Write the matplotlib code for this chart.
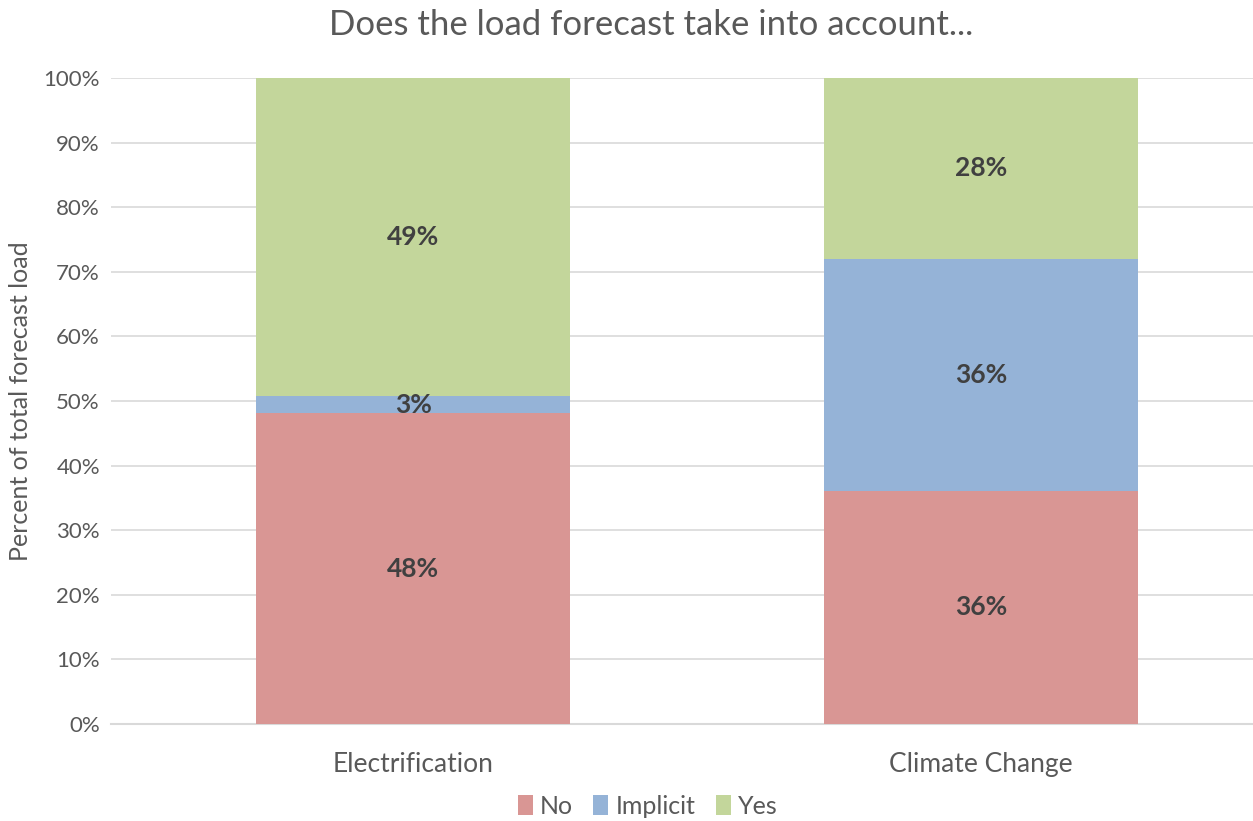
import numpy as np
import matplotlib.pyplot as plt

plt.rcParams['font.family'] = ['Lato', 'DejaVu Sans']

# data (percent of total forecast load)
categories = ['Electrification', 'Climate Change']
no_vals = [48.1, 36.1]
implicit_vals = [2.6, 35.9]
yes_vals = [49.3, 28.0]
series_names = ['No', 'Implicit', 'Yes']
colors = ['#D99694', '#95B3D7', '#C3D69B']

fig = plt.figure(figsize=(12.53, 8.21), dpi=100)
ax = fig.add_axes([0.0886, 0.1181, 0.9114, 0.7869])

x = np.arange(len(categories))
bottom = np.zeros(len(categories))
for name, vals, col in zip(series_names, [no_vals, implicit_vals, yes_vals], colors):
    vals = np.array(vals)
    ax.bar(x, vals, width=0.553, bottom=bottom, color=col, label=name, zorder=3)
    for xi, b, v in zip(x, bottom, vals):
        ax.text(xi, b + v / 2, f'{v:.0f}%', ha='center', va='center',
                fontsize=19, fontweight='bold', color='#404040', zorder=4)
    bottom += vals

ax.set_xlim(-0.532, 1.479)
ax.set_ylim(0, 100)
ax.set_yticks(np.arange(0, 101, 10))
ax.set_yticklabels([f'{t}%' for t in range(0, 101, 10)])
ax.set_xticks(x)
ax.set_xticklabels(categories)
ax.tick_params(axis='both', length=0, labelsize=16, colors='#595959')
ax.tick_params(axis='x', pad=20, labelsize=19)
ax.tick_params(axis='y', pad=8)
ax.grid(axis='y', color='#D9D9D9', linewidth=1.2, zorder=0)
for s in ['top', 'right', 'left']:
    ax.spines[s].set_visible(False)
ax.spines['bottom'].set_color('#D9D9D9')
ax.spines['bottom'].set_linewidth(1.5)

ax.set_ylabel('Percent of total forecast load', fontsize=18, color='#595959', labelpad=8)
fig.text(0.52, 0.97, 'Does the load forecast take into account...', ha='center', va='center',
         fontsize=25, color='#595959')

ax.legend(loc='center', bbox_to_anchor=(0.47, -0.127), ncol=3, frameon=False,
          fontsize=18, handlelength=0.6, handleheight=0.9, handletextpad=0.3,
          columnspacing=0.8, labelcolor='#595959')

fig.savefig('out.png', dpi=100)
